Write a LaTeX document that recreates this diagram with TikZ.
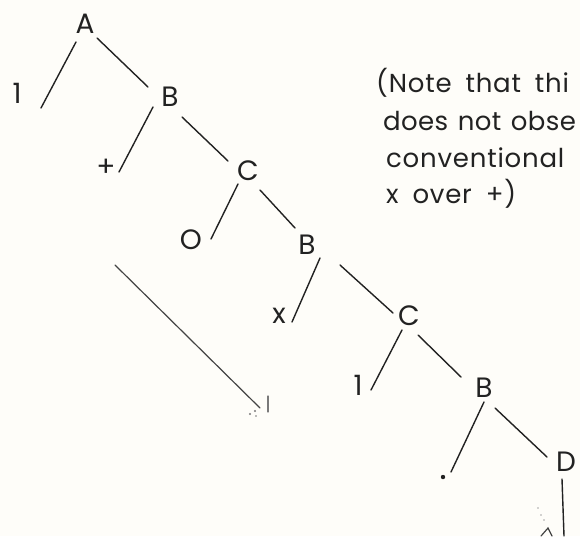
\documentclass[tikz,border=0pt]{standalone}
\usepackage{fontspec}
\setmainfont{Poppins}
\newfontfamily\notefont[LetterSpace=3,WordSpace=1.8]{Poppins}
\newfontfamily\notefontb[LetterSpace=1.5,WordSpace=1.3]{Poppins}
\definecolor{paper}{HTML}{FEFDF9}
\definecolor{ink}{HTML}{222222}
\begin{document}
\begin{tikzpicture}[x=1pt,y=-1pt,
  lbl/.style={inner sep=0pt,text=ink,font=\fontsize{28}{30}\selectfont},
  edge/.style={draw=ink,line width=1.4pt,line cap=round},
  faint/.style={draw=ink!85,line width=1.2pt,line cap=round},
  note/.style={inner sep=0pt,anchor=base west,text=ink,font=\notefont\fontsize{26}{28}\selectfont},
  noteb/.style={note,font=\notefontb\fontsize{26}{28}\selectfont}]
\useasboundingbox (0,0) rectangle (580,536);
\fill[paper] (0,0) rectangle (580,536);
\clip (0,0) rectangle (580,536);
% labels
\node[lbl] (A) at (85,24) {A};
\node[lbl] (one1) at (17,93) {1};
\node[lbl] (B1) at (170,97) {B};
\node[lbl] (plus) at (106,168) {+};
\node[lbl] (C1) at (248,171) {C};
\node[lbl] (O) at (191,240) {O};
\node[lbl] (B2) at (307,245) {B};
\node[lbl] (x) at (279,316) {x};
\node[lbl] (C2) at (409,316) {C};
\node[lbl] (one2) at (358,385) {1};
\node[lbl] (B3) at (484,388) {B};
\node[lbl] (D) at (566,462) {D};
\fill[ink] (443,477) circle (2.2pt) coordinate (dot);
% note
\node[note] (n1) at (376,92) {(Note that thi};
\node[noteb] (n2) at (383,130) {does not obse};
\node[note] (n3) at (386,167) {conventional};
\node[note] (n4) at (386,203) {x over +)};
% edge end points
\coordinate (a1s) at (76,42);   \coordinate (a1e) at (41,108);
\coordinate (abs) at (97,38);   \coordinate (abe) at (148,87);
\coordinate (bps) at (153,107); \coordinate (bpe) at (119,172);
\coordinate (bcs) at (182,117); \coordinate (bce) at (228,161);
\coordinate (cos) at (238,184); \coordinate (coe) at (211,239);
\coordinate (cbs) at (260,190); \coordinate (cbe) at (295,228);
\coordinate (bxs) at (320,258); \coordinate (bxe) at (292,322);
\coordinate (bcs2) at (340,265); \coordinate (bce2) at (393,313);
\coordinate (c1s) at (402,330); \coordinate (c1e) at (371,390);
\coordinate (cbs2) at (418,335); \coordinate (cbe2) at (461,377);
\coordinate (bds) at (484,402); \coordinate (bde) at (451,472);
\coordinate (bDs) at (495,408); \coordinate (bDe) at (547,457);
\coordinate (Ds) at (562,479);  \coordinate (De) at (564,536);
\coordinate (arS) at (115,265); \coordinate (arE) at (260,408);
% edges
\draw[edge] (a1s) -- (a1e);
\draw[edge] (abs) -- (abe);
\draw[edge] (bps) -- (bpe);
\draw[edge] (bcs) -- (bce);
\draw[edge] (cos) -- (coe);
\draw[edge] (cbs) -- (cbe);
\draw[edge] (bxs) -- (bxe);
\draw[edge] (bcs2) -- (bce2);
\draw[edge] (c1s) -- (c1e);
\draw[edge] (cbs2) -- (cbe2);
\draw[edge] (bds) -- (bde);
\draw[edge] (bDs) -- (bDe);
\draw[edge] (Ds) -- (De);
% faded arrows
\draw[faint] (arS) -- (arE);
\draw[faint,ink!60] (268,396) -- (268,412);
\fill[ink!60] (250,414) circle (1.1pt) (255,411) circle (1.1pt) (256,416) circle (0.9pt);
\draw[faint] (541,536) -- (548,528) -- (552,536);
\fill[ink!40] (538,508) circle (0.8pt) (541,515) circle (0.8pt) (544,520) circle (0.8pt);
\end{tikzpicture}
\end{document}
